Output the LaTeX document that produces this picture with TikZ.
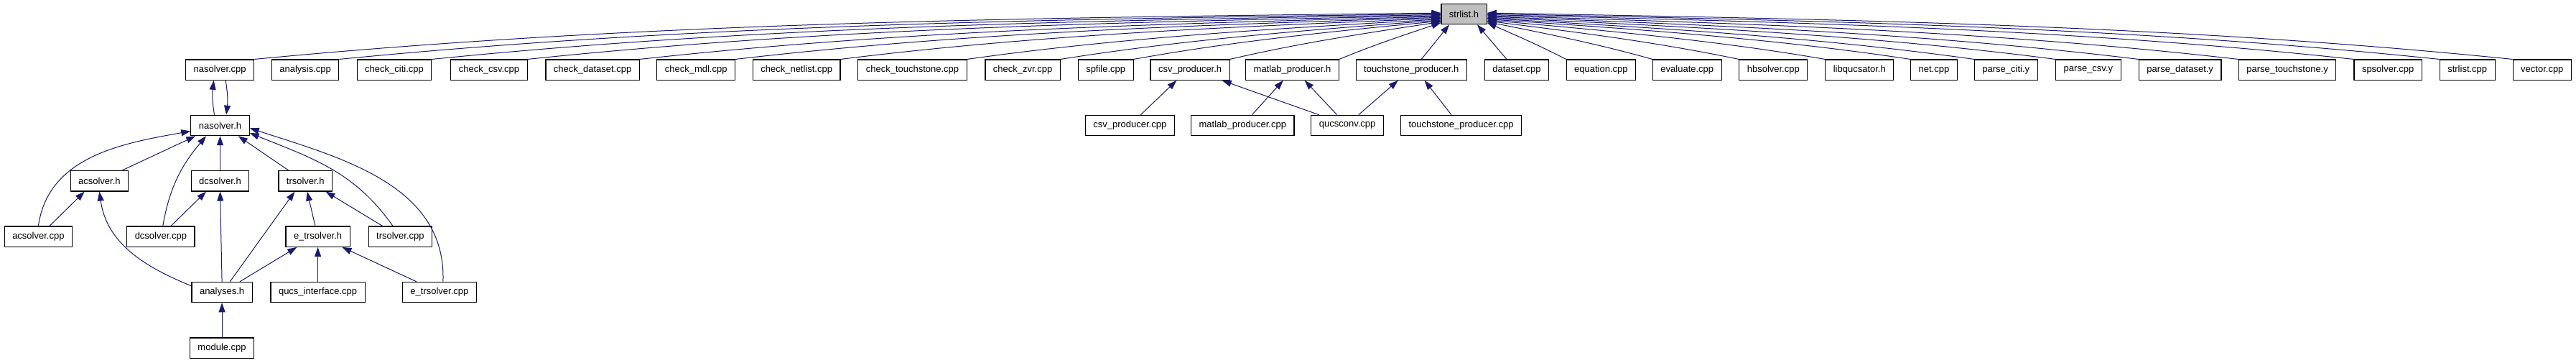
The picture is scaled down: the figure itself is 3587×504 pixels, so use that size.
\documentclass[tikz,border=0pt]{standalone}
\usepackage{fontspec}
\setmainfont{Liberation Sans}
\usetikzlibrary{arrows.meta}
\definecolor{edgeblue}{RGB}{25,25,112}
\definecolor{focusgray}{RGB}{191,191,191}

\begin{document}
\begin{tikzpicture}[x=1pt, y=1pt, >={Triangle[length=13pt,width=9pt]},
    box/.style={draw=black, line width=1.2pt, fill=white, minimum height=28.3pt,
      inner xsep=11pt, inner ysep=0pt, font=\fontsize{13}{15}\selectfont},
    dep/.style={->, color=edgeblue, line width=1pt}]
  \useasboundingbox (0,0) rectangle (3587,504);
  \node[box, fill=focusgray] (strlisth) at (2038.5,484.4) {strlist.h};
  \foreach \x/\id/\txt in {306.2/nasolvercpp/nasolver.cpp, 425.1/analysiscpp/analysis.cpp,
      549.0/checkciticpp/check\_citi.cpp, 681.0/checkcsvcpp/check\_csv.cpp,
      825.1/checkdatasetcpp/check\_dataset.cpp, 969.2/checkmdlcpp/check\_mdl.cpp,
      1109.2/checknetlistcpp/check\_netlist.cpp, 1270.5/checktouchstonecpp/check\_touchstone.cpp,
      1424.1/checkzvrcpp/check\_zvr.cpp, 1539.7/spfilecpp/spfile.cpp,
      1657.1/csvproducerh/csv\_producer.h, 1799.5/matlabproducerh/matlab\_producer.h,
      1965.3/touchstoneproducerh/touchstone\_producer.h, 2112.0/datasetcpp/dataset.cpp,
      2229.4/equationcpp/equation.cpp, 2349.3/evaluatecpp/evaluate.cpp,
      2469.3/hbsolvercpp/hbsolver.cpp, 2589.3/libqucsatorh/libqucsator.h,
      2692.9/netcpp/net.cpp, 2793.3/parsecitiy/parse\_citi.y,
      2907.9/parsecsvy/parse\_csv.y, 3035.7/parsedatasety/parse\_dataset.y,
      3185.1/parsetouchstoney/parse\_touchstone.y, 3325.1/spsolvercpp/spsolver.cpp,
      3435.7/strlistcpp/strlist.cpp, 3539.8/vectorcpp/vector.cpp}
    \node[box] (\id) at (\x,406.8) {\txt};

  \node[box] (nasolverh) at (306.5,329.5) {nasolver.h};
  \node[box] (csvproducercpp) at (1573.3,329.5) {csv\_producer.cpp};
  \node[box] (matlabproducercpp) at (1730.3,329.5) {matlab\_producer.cpp};
  \node[box] (qucsconvcpp) at (1876.1,329.5) {qucsconv.cpp};
  \node[box] (touchstoneproducercpp) at (2034.5,329.5) {touchstone\_producer.cpp};
  \node[box] (acsolverh) at (138.4,252.2) {acsolver.h};
  \node[box] (dcsolverh) at (306.5,252.2) {dcsolver.h};
  \node[box] (trsolverh) at (425.3,252.2) {trsolver.h};
  \node[box] (acsolvercpp) at (53.4,174.8) {acsolver.cpp};
  \node[box] (dcsolvercpp) at (223.9,174.8) {dcsolver.cpp};
  \node[box] (etrsolverh) at (442.6,174.8) {e\_trsolver.h};
  \node[box] (trsolvercpp) at (557.4,174.8) {trsolver.cpp};
  \node[box] (analysesh) at (309.1,97.5) {analyses.h};
  \node[box] (qucsinterfacecpp) at (442.6,97.5) {qucs\_interface.cpp};
  \node[box] (etrsolvercpp) at (611.9,97.5) {e\_trsolver.cpp};
  \node[box] (modulecpp) at (309.1,19.8) {module.cpp};

  \foreach \id [count=\k] in {nasolvercpp, analysiscpp, checkciticpp, checkcsvcpp,
      checkdatasetcpp, checkmdlcpp, checknetlistcpp, checktouchstonecpp,
      checkzvrcpp, spfilecpp, csvproducerh, matlabproducerh} {
    \pgfmathsetmacro\dy{1.5-(\k-1)*1.23}
    \path (\id.north east); \pgfgetlastxy{\sx}{\sy}
    \path ([yshift=\dy]strlisth.west); \pgfgetlastxy{\tx}{\ty}
    \pgfmathsetmacro\dx{(\tx-\sx)/3}
    \pgfmathsetmacro\dh{(\ty-\sy)/3}
    \draw[dep] (\id.north east) .. controls +(\dx,\dh+0.057*\dx) and +(-\dx,-\dh+0.027*\dx)
      .. ([yshift=\dy]strlisth.west);
  }
  \foreach \id [count=\k] in {equationcpp, evaluatecpp, hbsolvercpp, libqucsatorh,
      netcpp, parsecitiy, parsecsvy, parsedatasety, parsetouchstoney,
      spsolvercpp, strlistcpp, vectorcpp} {
    \pgfmathsetmacro\dy{-12+(\k-1)*1.23}
    \path (\id.north west); \pgfgetlastxy{\sx}{\sy}
    \path ([yshift=\dy]strlisth.east); \pgfgetlastxy{\tx}{\ty}
    \pgfmathsetmacro\dx{(\sx-\tx)/3}
    \pgfmathsetmacro\dh{(\ty-\sy)/3}
    \draw[dep] (\id.north west) .. controls +(-\dx,\dh+0.057*\dx) and +(\dx,-\dh+0.027*\dx)
      .. ([yshift=\dy]strlisth.east);
  }
  \draw[dep] ([xshift=14]touchstoneproducerh.north) -- ([xshift=-20.5]strlisth.south);
  \draw[dep] ([xshift=-14]datasetcpp.north) -- ([xshift=18.5]strlisth.south);

  \draw[dep] ([xshift=15]csvproducercpp.north) -- ([xshift=-18.8]csvproducerh.south);
  \draw[dep] ([xshift=-39.4]qucsconvcpp.north) -- ([xshift=44.6]csvproducerh.south);
  \draw[dep] ([xshift=13]matlabproducercpp.north) -- ([xshift=-12.8]matlabproducerh.south);
  \draw[dep] ([xshift=-14.4]qucsconvcpp.north) -- ([xshift=17.2]matlabproducerh.south);
  \draw[dep] ([xshift=15.6]qucsconvcpp.north) -- ([xshift=-18.6]touchstoneproducerh.south);
  \draw[dep] ([xshift=-13.5]touchstoneproducercpp.north) -- ([xshift=18.4]touchstoneproducerh.south);

  \draw[dep] ([xshift=-8]nasolverh.north) to[bend left=8] ([xshift=-8.5]nasolvercpp.south);
  \draw[dep] ([xshift=8]nasolvercpp.south) to[bend left=8] ([xshift=8.5]nasolverh.north);
  \draw[dep] (acsolvercpp.north) to[out=82, in=190] ([yshift=-8]nasolverh.west);
  \draw[dep] ([xshift=31.6]acsolverh.north) -- ([xshift=7]nasolverh.south west);
  \draw[dep] ([xshift=2.8]dcsolvercpp.north) to[out=80, in=230] ([xshift=-19.5]nasolverh.south);
  \draw[dep] (dcsolverh) -- (nasolverh);
  \draw[dep] ([xshift=-23.5]trsolverh.north) -- ([xshift=25.3]nasolverh.south);
  \draw[dep] ([xshift=-10.4]trsolvercpp.north) to[out=125, in=-22] ([yshift=-10.5]nasolverh.east);
  \draw[dep] ([xshift=5]etrsolvercpp.north) to[out=88, in=-18] ([yshift=-3.8]nasolverh.east);

  \draw[dep] ([xshift=15.5]acsolvercpp.north) -- ([xshift=-20.7]acsolverh.south);
  \draw[dep] ([yshift=8.8]analysesh.west) to[out=158, in=-82] (acsolverh.south);
  \draw[dep] ([xshift=14.1]dcsolvercpp.north) -- ([xshift=-19.5]dcsolverh.south);
  \draw[dep] (analysesh.north) -- (dcsolverh.south);
  \draw[dep] ([xshift=11.2]analysesh.north) -- ([xshift=-14.9]trsolverh.south);
  \draw[dep] ([xshift=-3.6]etrsolverh.north) -- ([xshift=2.4]trsolverh.south);
  \draw[dep] ([xshift=-24.7]trsolvercpp.north) -- ([xshift=28.2]trsolverh.south);
  \draw[dep] ([xshift=24.9]analysesh.north) -- ([xshift=-29.3]etrsolverh.south);
  \draw[dep] (qucsinterfacecpp) -- (etrsolverh);
  \draw[dep] ([xshift=-32.1]etrsolvercpp.north) -- ([xshift=33.9]etrsolverh.south);
  \draw[dep] (modulecpp) -- (analysesh);
\end{tikzpicture}
\end{document}
